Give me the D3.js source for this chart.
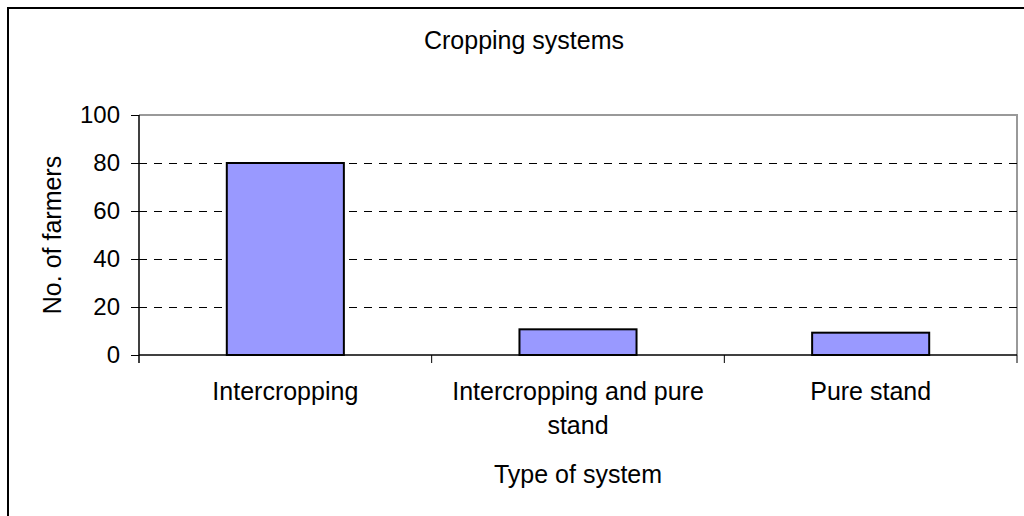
<!DOCTYPE html>
<html>
<head>
<meta charset="utf-8">
<script src="https://cdn.jsdelivr.net/npm/d3@7"></script>
<style>
  body { margin: 0; background: #fff; }
  text { font-family: "Liberation Sans", Arial, sans-serif; fill: #000; }
</style>
</head>
<body>
<div id="chart"></div>
<script>
var categories = ["Intercropping", "Intercropping and pure stand", "Pure stand"];
var categoryLines = [["Intercropping"], ["Intercropping and pure", "stand"], ["Pure stand"]];
var farmers = [80, 10.7, 9.3];
var yTicks = [0, 20, 40, 60, 80, 100];

var svgWidth = 1024;
var svgHeight = 516;

var chartMargin = { top: 115, right: 7, bottom: 161, left: 139 };
var chartWidth = svgWidth - chartMargin.left - chartMargin.right;
var chartHeight = svgHeight - chartMargin.top - chartMargin.bottom;

var svg = d3.select("#chart")
    .append("svg")
    .attr("width", svgWidth)
    .attr("height", svgHeight);

// outer chart border (runs off the right and bottom edges)
svg.append("rect")
    .attr("x", 8).attr("y", 8)
    .attr("width", 1040).attr("height", 540)
    .attr("fill", "none")
    .attr("stroke", "#000")
    .attr("stroke-width", 2);

var chartGroup = svg.append("g")
    .attr("transform", `translate(${chartMargin.left}, ${chartMargin.top})`);

var xBand = d3.scaleBand().domain(categories).range([0, chartWidth]);
var yScale = d3.scaleLinear().domain([0, 100]).range([chartHeight, 0]);
var barWidth = xBand.bandwidth() * 0.4;

// plot area border (gray top & right)
chartGroup.append("path")
    .attr("d", `M0,0H${chartWidth}V${chartHeight}`)
    .attr("fill", "none")
    .attr("stroke", "#999")
    .attr("stroke-width", 2);

// dashed gridlines
chartGroup.selectAll(".grid")
    .data(yTicks.filter(d => d > 0 && d < 100))
    .enter().append("line")
    .attr("x1", 0).attr("x2", chartWidth)
    .attr("y1", d => yScale(d) + 0.5).attr("y2", d => yScale(d) + 0.5)
    .attr("stroke", "#000")
    .attr("stroke-width", 1)
    .attr("stroke-dasharray", "8,7");

// bars
chartGroup.selectAll(".bar")
    .data(farmers)
    .enter().append("rect")
    .attr("x", (d, i) => xBand(categories[i]) + (xBand.bandwidth() - barWidth) / 2)
    .attr("y", d => yScale(d))
    .attr("width", barWidth)
    .attr("height", d => chartHeight - yScale(d))
    .attr("fill", "#9999FF")
    .attr("stroke", "#000")
    .attr("stroke-width", 2);

// y axis
var yAxis = d3.axisLeft(yScale).tickValues(yTicks).tickSize(8).tickPadding(11);
var yG = chartGroup.append("g").call(yAxis);
yG.select(".domain").attr("stroke", "#000").attr("stroke-width", 1.5).attr("d", `M0,0V${chartHeight + 8}`);
yG.selectAll(".tick line").attr("stroke", "#000");
yG.selectAll("text").style("font-size", "24px").style("font-family", "Liberation Sans, Arial, sans-serif").attr("fill", "#000");

// x axis: ticks at category boundaries
var xG = chartGroup.append("g").attr("transform", `translate(0, ${chartHeight})`);
xG.append("line")
    .attr("x1", 0).attr("x2", chartWidth)
    .attr("stroke", "#000").attr("stroke-width", 1.5);
xG.selectAll(".xtick")
    .data(categories)
    .enter().append("line")
    .attr("x1", d => xBand(d) + xBand.bandwidth())
    .attr("x2", d => xBand(d) + xBand.bandwidth())
    .attr("y1", 0).attr("y2", 8)
    .attr("stroke", "#000").attr("stroke-width", 1);

// category labels (wrapped)
xG.selectAll(".xlabel")
    .data(categories)
    .enter().append("text")
    .attr("text-anchor", "middle")
    .attr("y", 45)
    .style("font-size", "25px")
    .each(function (d, i) {
        d3.select(this).selectAll("tspan")
            .data(categoryLines[i])
            .enter().append("tspan")
            .attr("x", xBand(d) + xBand.bandwidth() / 2)
            .attr("dy", (t, j) => j === 0 ? 0 : 34)
            .text(t => t);
    });

// titles
svg.append("text").text("Cropping systems")
    .attr("x", 524).attr("y", 49)
    .attr("text-anchor", "middle")
    .style("font-size", "25px");

svg.append("text").text("Type of system")
    .attr("x", chartMargin.left + chartWidth / 2).attr("y", 483)
    .attr("text-anchor", "middle")
    .style("font-size", "25px");

svg.append("text").text("No. of farmers")
    .attr("text-anchor", "middle")
    .attr("transform", `translate(61, ${chartMargin.top + chartHeight / 2}) rotate(-90)`)
    .style("font-size", "25px");
</script>
</body>
</html>
